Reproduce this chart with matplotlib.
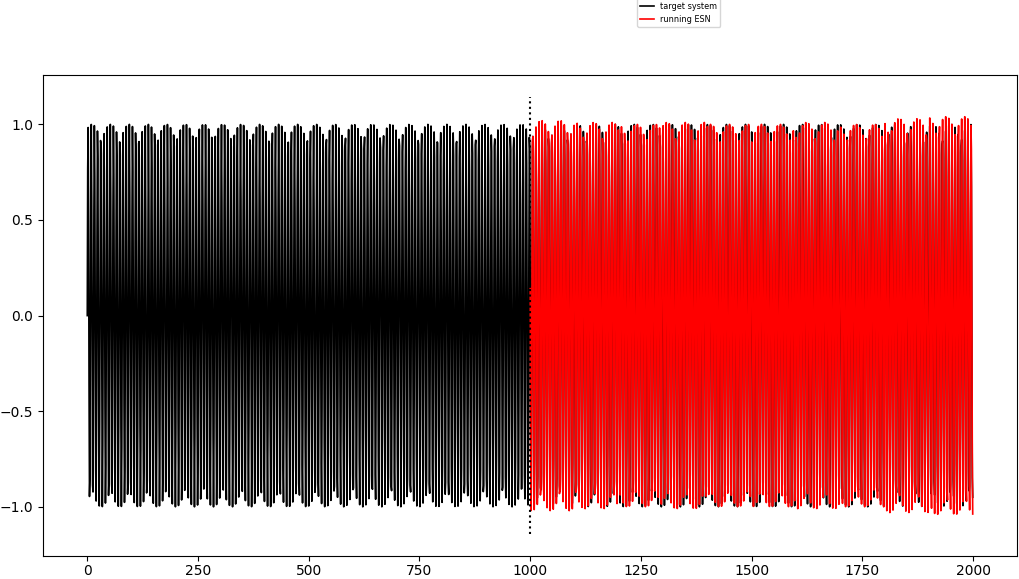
import numpy as np
import matplotlib
matplotlib.use("Agg")
import matplotlib.pyplot as plt

# values
trainlen = 1000
future = 1000
period = 7.17          # samples per oscillation of the target sine
# free-running ESN: peak amplitude and phase slip per 100-step block (t = 1000..1999)
esn_amp = [1.02, 1.01, 1.00, 1.01, 1.00, 1.00, 1.01, 1.00, 1.03, 1.04]
esn_phase = [0.05, -0.12, 0.15, -0.20, 0.10, -0.15, 0.22, -0.10, 0.18, -0.25]

t = np.arange(trainlen + future)
data = np.sin(2 * np.pi * t / period)

tf = np.arange(trainlen, trainlen + future)
blk = (tf - trainlen) // 100
prediction = np.array(esn_amp)[blk] * np.sin(2 * np.pi * tf / period + np.array(esn_phase)[blk])

fig = plt.figure(figsize=(10.19, 5.79), dpi=100)
ax = fig.add_axes([43 / 1019, 23 / 579, 974 / 1019, 481 / 579])

ax.plot(t, data, 'k', lw=1.2, label="target system")
ax.plot(tf, prediction, 'r', lw=1.2, label="running ESN")
lo, hi = ax.get_ylim()
ax.plot([trainlen, trainlen], [lo + np.spacing(1), hi - np.spacing(1)], 'k:', linewidth=1.5)
ax.legend(loc=(0.61, 1.1), fontsize=5.9, handlelength=1.6)
ax.tick_params(axis='x', pad=2.5)

fig.savefig("out.png", dpi=100)
